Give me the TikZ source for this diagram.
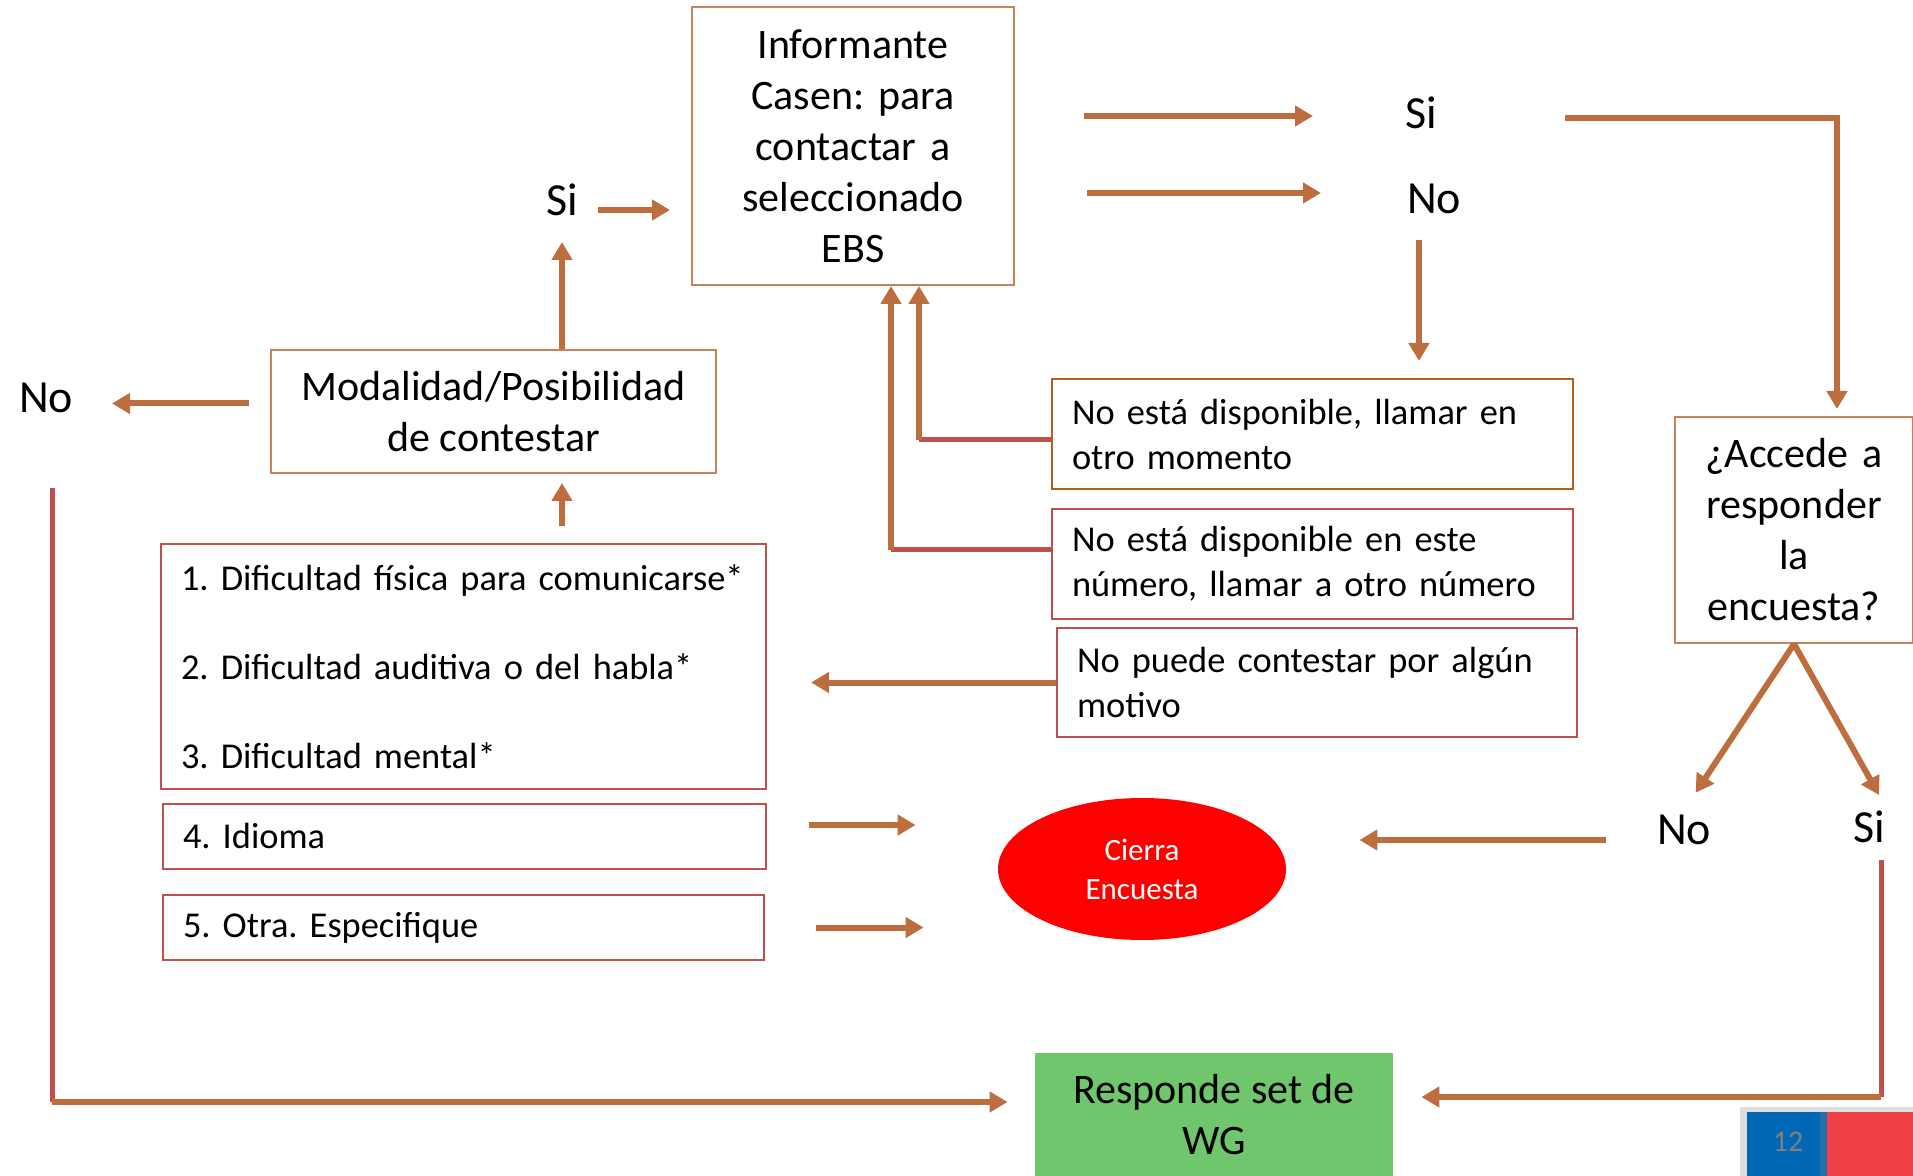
\documentclass[tikz,border=0pt]{standalone}
\usepackage{fontspec}
\setmainfont{Carlito}
\usepackage{tikz}
\usetikzlibrary{arrows.meta,shapes.geometric}
\definecolor{arrowC}{RGB}{190,110,62}
\definecolor{redL}{RGB}{192,80,77}
\definecolor{boxO}{RGB}{200,130,90}
\definecolor{boxB}{RGB}{180,95,30}
\definecolor{greenF}{RGB}{112,198,108}
\definecolor{badgeB}{RGB}{0,104,180}
\definecolor{badgeD}{RGB}{40,110,168}
\definecolor{badgeR}{RGB}{239,65,69}
\frenchspacing
\tikzstyle{Box}=[rectangle, draw=boxO, line width=1pt, align=center, inner sep=0pt, font=\fontsize{21}{25.5}\selectfont]
\tikzstyle{RedBox}=[rectangle, draw=redL, line width=1pt, align=left, inner xsep=10pt, inner ysep=0pt, font=\fontsize{18.2}{22.5}\selectfont]
\tikzstyle{Lbl}=[inner sep=0pt, font=\fontsize{23}{28}\selectfont]
\tikzstyle{Arr}=[draw=arrowC, line width=3pt, -{Triangle[width=10pt,length=9pt]}]
\tikzstyle{Ln}=[draw=redL, line width=2.5pt]

\begin{document}
\begin{tikzpicture}[x=0.5pt, y=-0.5pt]
    \useasboundingbox (0,0) rectangle (1913,1176);
    \clip (0,0) rectangle (1913,1176);

    \path
    (853,146) node[Box, minimum width=161pt, minimum height=139pt, text width=150pt] (inf) {Informante\\ Casen: para\\ contactar a\\ seleccionado\\ EBS}
    (493.5,411.5) node[Box, minimum width=222.5pt, minimum height=61.5pt] (modal) {Modalidad/Posibilidad\\ de contestar}
    (1794,530) node[Box, minimum width=119pt, minimum height=113pt, text width=110pt] (accede) {¿Accede a\\ responder\\ la\\ encuesta?};

    \path
    (1312.5,434) node[RedBox, draw=boxB, text width=240.5pt, minimum height=55pt] (disp1) {No está disponible, llamar en\\ otro momento}
    (1312.5,564) node[RedBox, text width=240.5pt, minimum height=55pt] (disp2) {No está disponible en este\\ número, llamar a otro número}
    (1317,682.5) node[RedBox, text width=240pt, minimum height=54.5pt] (noPuede) {No puede contestar por algún\\ motivo}
    (463.5,666.5) node[RedBox, text width=282.5pt, minimum height=122.5pt] (list) {1. Dificultad física para comunicarse*\\[22pt] 2. Dificultad auditiva o del habla*\\[22pt] 3. Dificultad mental*}
    (464.5,836.5) node[RedBox, text width=281.5pt, minimum height=32.5pt] (idioma) {4. Idioma}
    (463.5,927.5) node[RedBox, text width=280.5pt, minimum height=32.5pt] (otra) {5. Otra. Especifique};

    \path
    (1142,869) node[ellipse, fill=red, minimum width=144pt, minimum height=71pt, align=center, text=white, font=\fontsize{15.5}{19.5}\selectfont] (cierra) {Cierra\\ Encuesta}
    (1214,1115) node[rectangle, fill=greenF, minimum width=179pt, minimum height=62pt, align=center, font=\fontsize{21}{25.5}\selectfont] (responde) {Responde set de\\ WG};

    \path
    (1421,113) node[Lbl] (siTop) {Si}
    (1434,199) node[Lbl] (noTop) {No}
    (562,200) node[Lbl] (siLeft) {Si}
    (46,398) node[Lbl] (noLeft) {No}
    (1684,830) node[Lbl] (noRight) {No}
    (1869,827) node[Lbl] (siRight) {Si};

    % Informante -> Si / No
    \coordinate (t1) at ([yshift=-1.5pt]siTop.center);
    \coordinate (t2) at ([yshift=3pt]noTop.center);
    \draw[Arr, shorten <=34.5pt, shorten >=54pt] (inf.east |- t1) -- (t1);
    \draw[Arr, shorten <=36pt, shorten >=56.5pt] (inf.east |- t2) -- (t2);
    \draw[Arr, shorten <=72pt, shorten >=3.5pt] ([yshift=-2.5pt]siTop.center) -| ([xshift=21.5pt]accede.north);
    \draw[Arr, shorten <=20.5pt, shorten >=8.5pt] ([xshift=-7.5pt]noTop.center) -- ([xshift=-7.5pt]noTop.center |- disp1.north);

    % vuelta a Informante
    \coordinate (k1) at ([xshift=33pt]inf.south);
    \coordinate (d1) at ([yshift=-3pt]disp1.west);
    \draw[Ln] (d1) -- (d1 -| k1);
    \draw[Arr] (d1 -| k1) -- (k1);
    \coordinate (k2) at ([xshift=19pt]inf.south);
    \coordinate (d2) at ([yshift=7pt]disp2.west);
    \draw[Ln] (d2) -- (d2 -| k2);
    \draw[Arr] (d2 -| k2) -- (k2);

    \draw[Arr, shorten >=22pt] (noPuede.west) -- (noPuede.west -| list.east);
    \draw[Arr, shorten <=8.5pt, shorten >=4.5pt] (list.north -| siLeft.center) -- (modal.south -| siLeft.center);
    \draw[Arr, shorten >=21pt] (modal.north -| siLeft.center) -- (siLeft.center);
    \coordinate (s1) at ([yshift=-5pt]siLeft.center);
    \draw[Arr, shorten <=18pt, shorten >=10.5pt] (s1) -- (s1 -| inf.west);
    \coordinate (m1) at ([yshift=4pt]modal.west);
    \draw[Arr, shorten <=10.5pt, shorten >=33pt] (m1) -- (m1 -| noLeft.center);

    % hacia Responde
    \coordinate (n1) at ([xshift=3pt]noLeft.center);
    \coordinate (r1) at ([yshift=6.5pt]responde.west);
    \draw[Ln, shorten <=45pt] (n1) -- (n1 |- r1);
    \draw[Arr, shorten >=13.5pt] (n1 |- r1) -- (r1);
    \coordinate (n2) at ([xshift=6pt]siRight.center);
    \coordinate (r2) at ([yshift=9pt]responde.east);
    \draw[Ln, shorten <=16.5pt] (n2) -- (n2 |- r2);
    \draw[Arr, shorten >=14pt] (n2 |- r2) -- (r2);

    % Accede
    \draw[Arr, shorten >=22.3pt] (accede.south) -- ([xshift=-6.5pt]noRight.center);
    \draw[Arr, shorten >=18.4pt] (accede.south) -- ([xshift=14pt]siRight.center);
    \coordinate (n3) at ([yshift=-5pt]noRight.center);
    \draw[Arr, shorten <=39pt, shorten >=36.5pt] (n3) -- (n3 -| cierra.east);

    % Cierra
    \coordinate (i1) at ([yshift=5.75pt]idioma.east);
    \draw[Arr, shorten <=21pt, shorten >=41pt] (i1) -- (i1 -| cierra.west);
    \draw[Arr, shorten <=25.5pt, shorten >=37pt] (otra.east) -- (otra.east -| cierra.west);

    \fill[gray!25] (1740,1107) rectangle (1913,1176);
    \fill[badgeB] (1747,1112) rectangle (1820,1176);
    \fill[badgeD] (1820,1112) rectangle (1827,1176);
    \fill[badgeR] (1827,1112) rectangle (1913,1176);
    \node[text=gray, font=\fontsize{15}{18}\selectfont] (page) at (1788,1142) {12};
\end{tikzpicture}
\end{document}
